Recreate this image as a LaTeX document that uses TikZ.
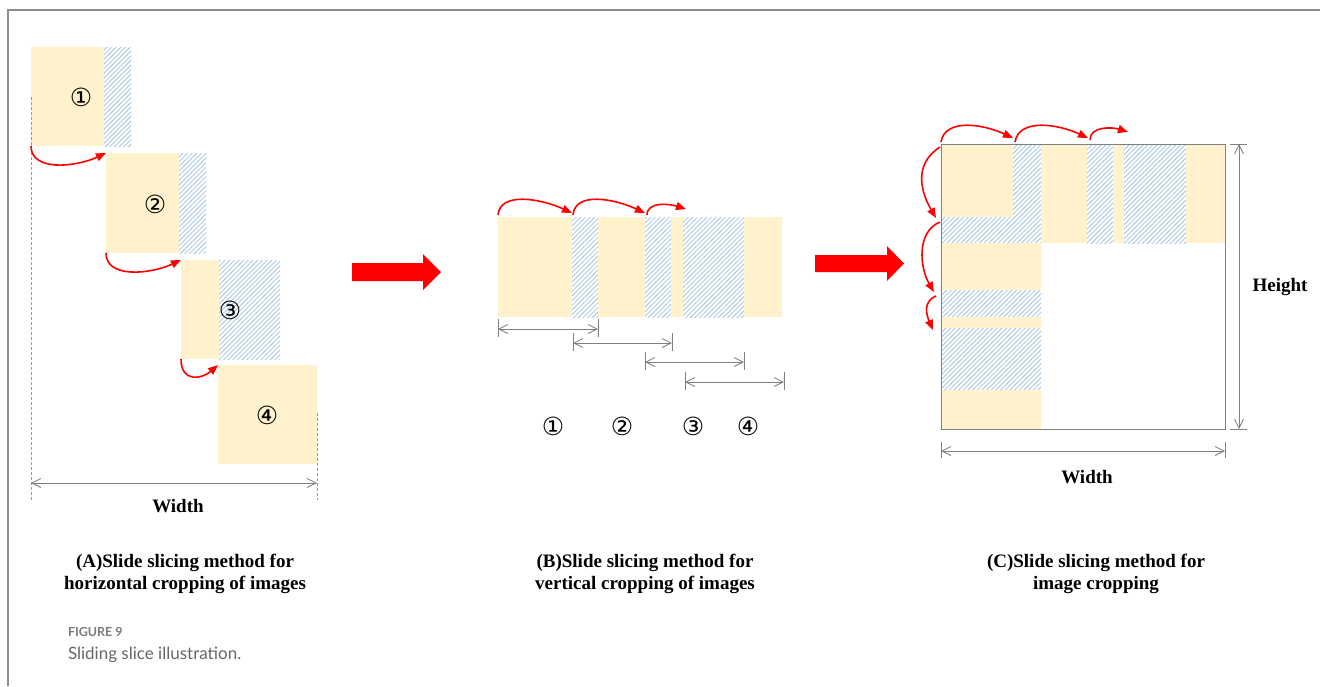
\documentclass[tikz,border=0pt]{standalone}
\usepackage{fontspec}
\setmainfont{Liberation Serif}
\newfontfamily\symfont{DejaVu Sans}
\newfontfamily\capfont{Lato}
\usetikzlibrary{arrows.meta,patterns.meta,calc}
\definecolor{beige}{HTML}{FFF2CC}
\definecolor{hatchblue}{HTML}{9DC3E6}
\definecolor{framegray}{HTML}{8C8C8C}
\definecolor{dimgray}{HTML}{7F7F7F}
\definecolor{capgray}{HTML}{666666}
\definecolor{figgray}{HTML}{7A7A7A}

\begin{document}
\begin{tikzpicture}[x=1pt,y=-1pt,
  every node/.style={inner sep=0pt, outer sep=0pt},
  solidpart/.style={fill=beige, draw=none, anchor=north west},
  overlap/.style={pattern={Lines[angle=45,distance=3.3pt,line width=0.8pt]},
                  pattern color=hatchblue, draw=none, anchor=north west},
  slide/.style={draw=red, line width=1.6pt, -{Triangle[length=10pt,width=8pt]}},
  dim/.style={draw=dimgray, line width=0.8pt,
              {Straight Barb[length=9pt,width=9pt]}-{Straight Barb[length=9pt,width=9pt]}},
  tick/.style={draw=dimgray, line width=0.8pt},
  guide/.style={draw=dimgray!80, line width=0.6pt, dash pattern=on 3pt off 2pt},
  num/.style={font=\symfont\fontsize{25}{25}\selectfont},
  lbl/.style={font=\bfseries\fontsize{19}{22}\selectfont, align=center},
  bigarrow/.style={fill=red, draw=none}
]
\useasboundingbox (0,0) rectangle (1320,686);

% outer frame (open to the right and bottom)
\draw[framegray, line width=1.5pt] (8,686) -- (8,10) -- (1320,10);

% ---------------- (A) horizontal sliding ----------------
\node[solidpart, minimum width=73pt, minimum height=99pt]  (a1)  at (31,47) {};
\node[overlap,   minimum width=27pt, minimum height=99pt]  (a1h) at (104,47) {};
\node[solidpart, minimum width=73pt, minimum height=100pt] (a2)  at (106,153) {};
\node[overlap,   minimum width=27pt, minimum height=100pt] (a2h) at (179,153) {};
\node[solidpart, minimum width=38pt, minimum height=99pt]  (a3)  at (181,260) {};
\node[overlap,   minimum width=61pt, minimum height=99pt]  (a3h) at (219,260) {};
\node[solidpart, minimum width=99pt, minimum height=99pt]  (a4)  at (218,365) {};

\node[num] (na1) at (81,97)  {①};
\node[num] (na2) at (155,204) {②};
\node[num] (na3) at (230,310) {③};
\node[num] (na4) at (267,415) {④};

\draw[guide] (31,97) -- (31,500);
\draw[guide] (317,413) -- (317,500);

\draw[slide] (a1.south west) .. controls +(0,26) and +(-30,14) .. (a2.north west);
\draw[slide] (a2.south west) .. controls +(0,26) and +(-30,14) .. (a3.north west);
\draw[slide] (a3.south west) .. controls +(0,24) and +(-16,14) .. (a4.north west);

\coordinate (wa1) at (31,483);
\coordinate (wa2) at (317,483);
\draw[dim] (wa1) -- (wa2);
\node[lbl] (wA) at (178,506) {Width};

\node[lbl] (capA) at (185,574) {(A)Slide slicing method for\\horizontal cropping of images};

% ---------------- block arrows ----------------
\fill[bigarrow] (352,263) -- (423,263) -- (423,254) -- (441,272) -- (423,290) -- (423,281) -- (352,281) -- cycle;
\fill[bigarrow] (815,255) -- (887,255) -- (887,246) -- (904,263.5) -- (887,281) -- (887,272) -- (815,272) -- cycle;

% ---------------- (B) vertical sliding ----------------
\node[solidpart, minimum width=74pt, minimum height=100pt] (b1)  at (498,217) {};
\node[overlap,   minimum width=26pt, minimum height=100pt] (b1h) at (572,217) {};
\node[solidpart, minimum width=47pt, minimum height=100pt] (b2)  at (598,217) {};
\node[overlap,   minimum width=26pt, minimum height=100pt] (b2h) at (645,217) {};
\node[solidpart, minimum width=12pt, minimum height=100pt] (b3)  at (671,217) {};
\node[overlap,   minimum width=61pt, minimum height=100pt] (b3h) at (683,217) {};
\node[solidpart, minimum width=38pt, minimum height=100pt] (b4)  at (744,217) {};

\draw[slide] ($(b1.north west)+(0,-2)$) .. controls +(2,-24) and +(-30,-14) .. ($(b1h.north west)+(0,-4)$);
\draw[slide] ($(b1h.north west)+(1,-2)$) .. controls +(2,-24) and +(-30,-14) .. ($(b2h.north west)+(0,-4)$);
\draw[slide] ($(b2h.north west)+(2,-2)$) .. controls +(0,-14) and +(-16,-5) .. ($(b3h.north west)+(3,-8)$);

\coordinate (d1l) at (498,329); \coordinate (d1r) at (598,329);
\coordinate (d2l) at (573,343); \coordinate (d2r) at (672,343);
\coordinate (d3l) at (645,362); \coordinate (d3r) at (744,362);
\coordinate (d4l) at (685,382); \coordinate (d4r) at (784,382);
\foreach \d in {d1,d2,d3,d4}{
  \draw[dim] (\d l) -- (\d r);
  \draw[tick] ($(\d l)+(0,-10)$) -- ($(\d l)+(0,8)$);
  \draw[tick] ($(\d r)+(0,-10)$) -- ($(\d r)+(0,8)$);
}

\node[num] (nb1) at (553,426) {①};
\node[num] (nb2) at (622,426) {②};
\node[num] (nb3) at (693,426) {③};
\node[num] (nb4) at (748,426) {④};

\node[lbl] (capB) at (645,574) {(B)Slide slicing method for\\vertical cropping of images};

% ---------------- (C) two-way sliding ----------------
\node[solidpart, minimum width=72pt, minimum height=73pt] (c1)  at (941,144) {};
\node[overlap,   minimum width=28pt, minimum height=99pt] (c1h) at (1013,144) {};
\node[overlap,   minimum width=72pt, minimum height=26pt] (c1v) at (941,217) {};
\node[solidpart, minimum width=46pt, minimum height=99pt] (c2)  at (1041,144) {};
\node[overlap,   minimum width=26pt, minimum height=99pt] (c2h) at (1087,144) {};
\node[solidpart, minimum width=11pt, minimum height=99pt] (c3)  at (1113,144) {};
\node[overlap,   minimum width=62pt, minimum height=99pt] (c3h) at (1124,144) {};
\node[solidpart, minimum width=39pt, minimum height=99pt] (c4)  at (1186,144) {};

\node[solidpart, minimum width=100pt, minimum height=47pt] (v2)  at (941,243) {};
\node[overlap,   minimum width=100pt, minimum height=27pt] (v2h) at (941,290) {};
\node[solidpart, minimum width=100pt, minimum height=11pt] (v3)  at (941,317) {};
\node[overlap,   minimum width=100pt, minimum height=62pt] (v3h) at (941,328) {};
\node[solidpart, minimum width=100pt, minimum height=39pt] (v4)  at (941,390) {};

\node[draw=dimgray, line width=0.9pt, anchor=north west,
      minimum width=284pt, minimum height=285pt] (C) at (941,144) {};

% horizontal steps along the top
\draw[slide] ($(C.north west)+(0,-2)$) .. controls +(4,-24) and +(-30,-14) .. ($(c1h.north west)+(0,-6)$);
\draw[slide] ($(c1h.north west)+(2,-2)$) .. controls +(4,-24) and +(-30,-14) .. ($(c2h.north west)+(1,-6)$);
\draw[slide] ($(c2h.north west)+(3,-4)$) .. controls +(0,-14) and +(-16,-5) .. ($(c3h.north west)+(4,-12)$);

% vertical steps down the left side
\draw[slide] ($(C.north west)+(-1,3)$) .. controls +(-28,18) and +(-14,-24) .. ($(c1v.north west)+(-5,1)$);
\draw[slide] ($(c1v.north west)+(-1,5)$) .. controls +(-24,10) and +(-14,-24) .. ($(v2h.north west)+(-7,2)$);
\draw[slide] ($(v2h.north west)+(-5,6)$) .. controls +(-14,6) and +(-6,-14) .. ($(v3h.north west)+(-8,2)$);

% overall size
\coordinate (ht) at (1239,144);
\coordinate (hb) at (1239,429);
\draw[dim] (ht) -- (hb);
\draw[tick] (1230,144) -- (1247,144);
\draw[tick] (1230,429) -- (1247,429);
\node[lbl] (hC) at (1280,287) {Height};

\coordinate (wc1) at (941,451);
\coordinate (wc2) at (1225,451);
\draw[dim] (wc1) -- (wc2);
\draw[tick] (941,442) -- (941,458);
\draw[tick] (1225,442) -- (1225,458);
\node[lbl] (wC) at (1087,477) {Width};

\node[lbl] (capC) at (1096,574) {(C)Slide slicing method for\\image cropping};

% ---------------- figure caption ----------------
\node[anchor=west, text=figgray, font=\capfont\bfseries\fontsize{12.5}{12.5}\selectfont] (fig) at (68,632) {FIGURE 9};
\node[anchor=west, text=capgray, font=\capfont\fontsize{17}{17}\selectfont] (cap) at (68,655) {Sliding slice illustration.};
\end{tikzpicture}
\end{document}
